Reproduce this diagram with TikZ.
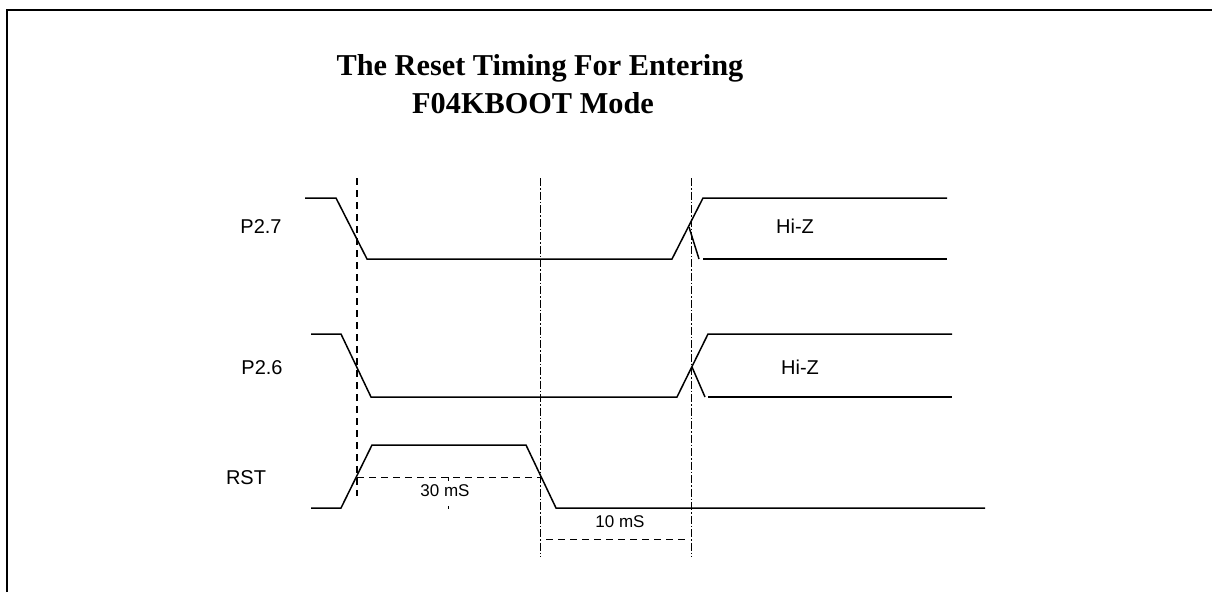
\documentclass[tikz,border=0pt]{standalone}
\usepackage{fontspec}
\setmainfont{Liberation Serif}
\setsansfont{Liberation Sans}
\begin{document}
\begin{tikzpicture}[x=1pt,y=-1pt,
  sig/.style={line width=1.5pt,line join=miter},
  frame/.style={line width=2.2pt},
  markerA/.style={line width=1.6pt,dash pattern=on 7pt off 5pt},
  markerB/.style={line width=0.8pt,dash pattern=on 8pt off 2pt on 1.5pt off 2pt},
  span/.style={line width=0.9pt,dash pattern=on 7pt off 5pt},
  lab/.style={font=\sffamily\fontsize{20}{23}\selectfont,anchor=base,inner sep=0pt},
  small/.style={font=\sffamily\fontsize{17}{20}\selectfont,anchor=base,inner sep=0pt},
  ttl/.style={font=\bfseries\fontsize{30.3}{35}\selectfont,anchor=base,inner sep=0pt}]
\useasboundingbox (0,0) rectangle (1212,592);
% frame
\draw[frame] (7,592) -- (7,10) -- (1212,10);
% title
\node[ttl] (t1) at (540,75) {The Reset Timing For Entering};
\node[ttl] (t2) at (533,113) {F04KBOOT Mode};
% labels
\node[lab] (l27) at (261,233) {P2.7};
\node[lab] (l26) at (262,374) {P2.6};
\node[lab] (lrst) at (246,484) {RST};
\node[lab] (hz1) at (795,233) {Hi-Z};
\node[lab] (hz2) at (800,374) {Hi-Z};
\node[small] (m30) at (445,496) {30 mS};
\node[small] (m10) at (620,527) {10 mS};
% P2.7
\draw[sig] (305,198) -- (336,198) -- (367,259) -- (672,259) -- (703,198) -- (947,198);
\draw[sig] (689,227) -- (699,259);
\draw[sig] (703,259) -- (947,259);
% P2.6
\draw[sig] (311,334) -- (341,334) -- (371,397) -- (677,397) -- (708,334) -- (952,334);
\draw[sig] (692,367) -- (705,397);
\draw[sig] (708,397) -- (952,397);
% RST
\draw[sig] (311,508) -- (341,508) -- (372,445) -- (526,445) -- (556,508) -- (985,508);
% vertical markers
\coordinate (v1t) at (357,178); \coordinate (v1b) at (357,496);
\coordinate (v2t) at (540,178); \coordinate (v2b) at (540,557);
\coordinate (v3t) at (691,178); \coordinate (v3b) at (691,557);
\draw[markerA] (v1t) -- (v1b);
\draw[markerB] (v2t) -- (v2b);
\draw[markerB] (v3t) -- (v3b);
% spans
\coordinate (s1a) at (357,477); \coordinate (s1b) at (540,477);
\coordinate (s2a) at (546,539); \coordinate (s2b) at (687,539);
\draw[span] (s1a) -- (s1b);
\draw[span] (s2a) -- (s2b);
\draw[line width=0.9pt] (448,477) -- (448,481);
\draw[line width=0.9pt] (448,506) -- (448,509);
\end{tikzpicture}
\end{document}
